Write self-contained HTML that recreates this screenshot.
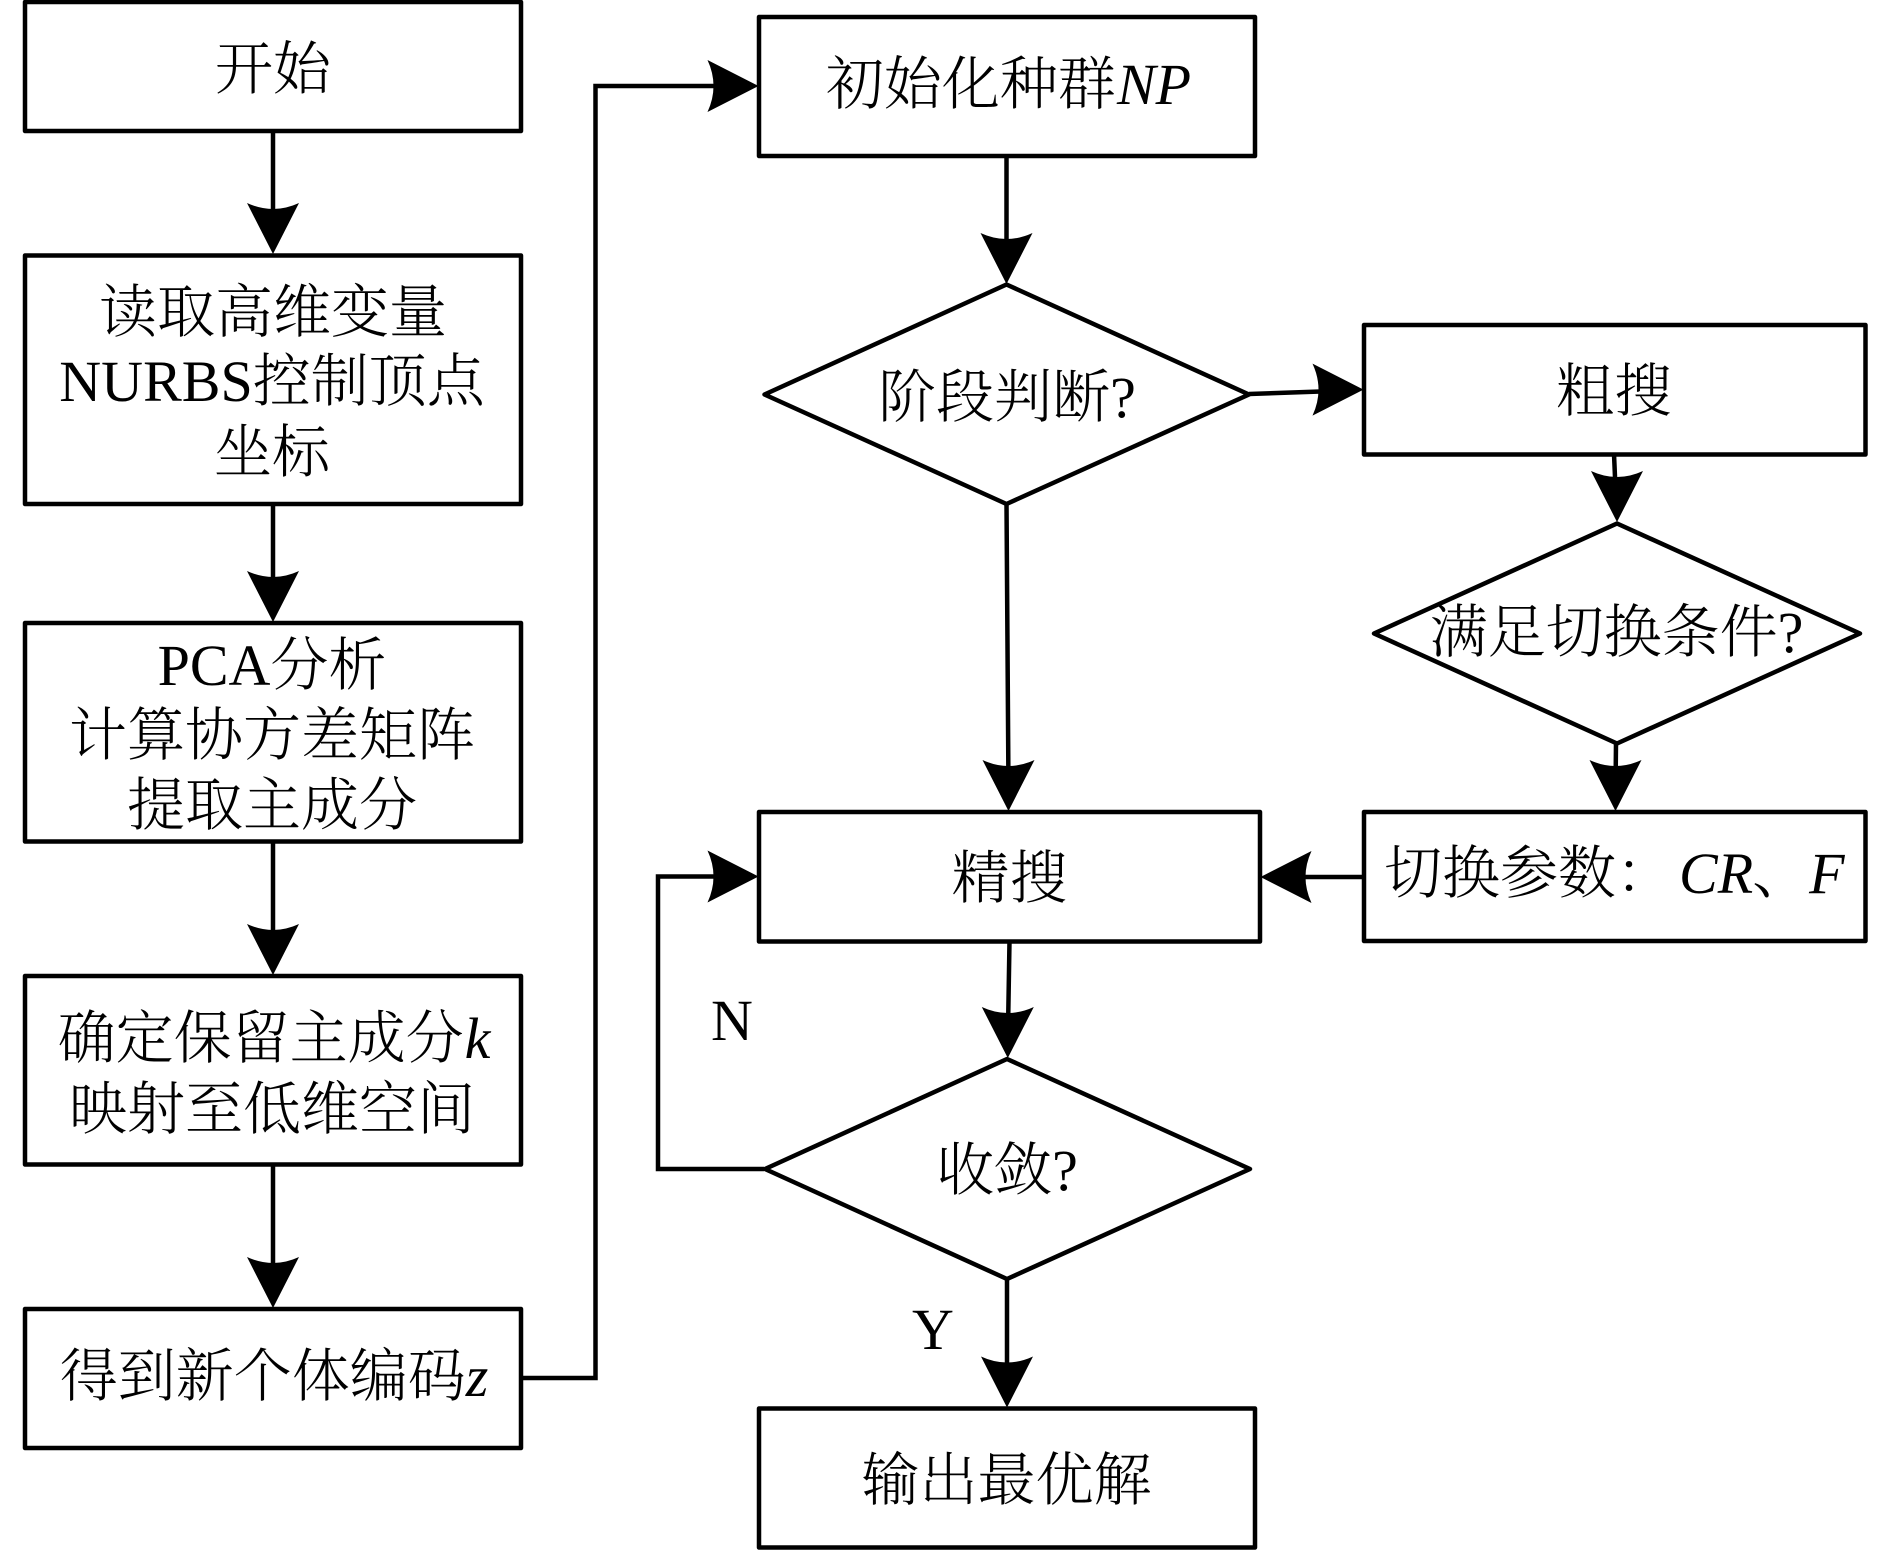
<!DOCTYPE html>
<html><head><meta charset="utf-8"><style>
html,body{margin:0;padding:0;background:#fff}
svg{display:block}
text{font-family:"Liberation Serif","Noto Serif CJK SC",serif;font-size:58px;fill:#000;text-anchor:middle;font-weight:300}
.i{font-style:italic}
.st{text-anchor:start}
.b{fill:#fff;stroke:#000;stroke-width:4.5;stroke-linejoin:round}
.l{fill:none;stroke:#000;stroke-width:4.5;stroke-linejoin:miter}
</style></head><body>
<svg width="1890" height="1550" viewBox="0 0 1890 1550" xmlns="http://www.w3.org/2000/svg">
<defs><path id="a" d="M0 0L-26-51Q0-39 26-51Z" fill="#000"/></defs>
<rect width="1890" height="1550" fill="#fff"/>
<!-- connectors -->
<path class="l" d="M273 131V230M273 504V600M273 841V950M273 1164V1280"/>
<path class="l" d="M521 1378H595.5V86H720"/>
<path class="l" d="M1006.5 155V260M1006.5 504L1008.5 790"/>
<path class="l" d="M1249 394L1335 391M1614 454L1616 500M1616 743L1615.5 790"/>
<path class="l" d="M1364 877H1290"/>
<path class="l" d="M1009.5 941L1008 1030M1007 1278V1380"/>
<path class="l" d="M764 1169H658V876.5H720"/>
<!-- left boxes -->
<rect class="b" x="25" y="2" width="496" height="129"/>
<rect class="b" x="25" y="255.5" width="496" height="248.5"/>
<rect class="b" x="25" y="623" width="496" height="218.5"/>
<rect class="b" x="25" y="976" width="496" height="188.5"/>
<rect class="b" x="25" y="1309" width="496" height="139"/>
<!-- middle -->
<rect class="b" x="759" y="17" width="496" height="139"/>
<polygon class="b" points="1006.5,284.5 1249,394.5 1006.5,504 764.5,394.5"/>
<rect class="b" x="759" y="812" width="501" height="129.5"/>
<polygon class="b" points="1007,1059 1250,1169 1007,1279 765,1169"/>
<rect class="b" x="759" y="1408.5" width="496" height="139"/>
<!-- right -->
<rect class="b" x="1364" y="325" width="501.5" height="129.5"/>
<polygon class="b" points="1617,523.5 1860,633.5 1617,743.5 1374,633.5"/>
<rect class="b" x="1364" y="812" width="501.5" height="129"/>
<!-- arrowheads -->
<use href="#a" transform="translate(273 254)"/>
<use href="#a" transform="translate(273 622)"/>
<use href="#a" transform="translate(273 975)"/>
<use href="#a" transform="translate(273 1308)"/>
<use href="#a" transform="translate(758.5 86) rotate(-90)"/>
<use href="#a" transform="translate(1006.5 284)"/>
<use href="#a" transform="translate(1008.5 811)"/>
<use href="#a" transform="translate(1363.5 389.6) rotate(-90)"/>
<use href="#a" transform="translate(1617 522)"/>
<use href="#a" transform="translate(1615.5 811)"/>
<use href="#a" transform="translate(1260.5 877) rotate(90)"/>
<use href="#a" transform="translate(758.5 876.5) rotate(-90)"/>
<use href="#a" transform="translate(1007.8 1058)"/>
<use href="#a" transform="translate(1007 1407.5)"/>
<!-- text -->
<text x="273" y="89">开始</text>
<text x="273" y="332">读取高维变量</text>
<text x="272" y="401">NURBS控制顶点</text>
<text x="272" y="472">坐标</text>
<text x="272" y="685">PCA分析</text>
<text x="272" y="755">计算协方差矩阵</text>
<text x="272" y="825">提取主成分</text>
<text x="274" y="1058">确定保留主成分<tspan class="i" dx="1">k</tspan></text>
<text x="272" y="1129">映射至低维空间</text>
<text x="274" y="1396">得到新个体编码<tspan class="i">z</tspan></text>
<text x="1008.5" y="104">初始化种群<tspan class="i" dx="1">NP</tspan></text>
<text x="1007" y="417">阶段判断?</text>
<text x="1614" y="411">粗搜</text>
<text x="1616.5" y="652">满足切换条件?</text>
<text class="st" x="1384" y="893">切换参数：<tspan class="i" dx="5">CR</tspan><tspan dx="-1">、</tspan><tspan class="i" dx="-1">F</tspan></text>
<text x="1009.5" y="898">精搜</text>
<text x="1007" y="1190">收敛?</text>
<text x="1006.5" y="1500">输出最优解</text>
<text x="732" y="1040">N</text>
<text x="933" y="1349">Y</text>
</svg>
</body></html>
